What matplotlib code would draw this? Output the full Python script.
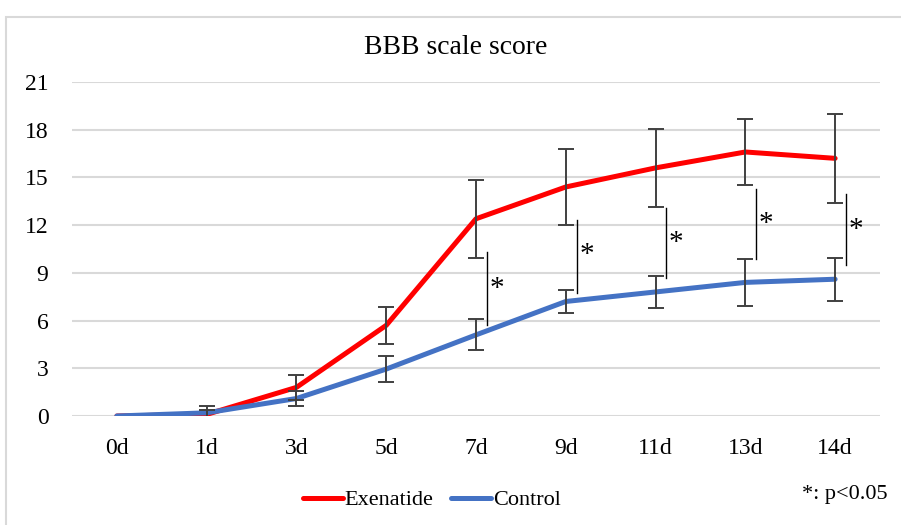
import matplotlib.pyplot as plt
from matplotlib.lines import Line2D
from matplotlib.patches import Rectangle

# ------------------------------
# data
# ------------------------------
days = ["0d", "1d", "3d", "5d", "7d", "9d", "11d", "13d", "14d"]

exenatide = [0, 0.1, 1.8, 5.7, 12.4, 14.4, 15.6, 16.6, 16.2]
exenatide_err = [0, 0.3, 0.8, 1.15, 2.45, 2.4, 2.45, 2.05, 2.8]

control = [0, 0.2, 1.1, 2.95, 5.1, 7.2, 7.8, 8.4, 8.6]
control_err = [0, 0.4, 0.45, 0.8, 0.97, 0.75, 1.0, 1.5, 1.35]

# significance brackets: (day index, low, high, star y)
sig_idx = [4, 5, 6, 7, 8]
sig_low = [5.7, 7.75, 8.7, 9.85, 9.5]
sig_high = [10.3, 12.3, 13.1, 14.3, 13.95]
sig_star = [8.0, 10.1, 10.9, 12.1, 11.7]

# ------------------------------
# figure
# ------------------------------
plt.rcParams["font.family"] = ["Liberation Serif", "DejaVu Serif"]

fig = plt.figure(figsize=(9.01, 5.25), dpi=100)
fig.patches.append(Rectangle((6 / 901, -0.1), 1.2, 1 - 17 / 525 + 0.1,
                             transform=fig.transFigure, fill=False,
                             edgecolor="#d9d9d9", linewidth=1.5))
ax = fig.add_axes([72 / 901, 1 - 416 / 525, 808 / 901, 334 / 525])

x = list(range(len(days)))

ax.plot(x, exenatide, color="#ff0000", lw=3.6, solid_capstyle="round", zorder=3)
ax.plot(x, control, color="#4472c4", lw=3.6, solid_capstyle="round", zorder=3)

ax.errorbar(x[1:], exenatide[1:], yerr=exenatide_err[1:], fmt="none",
            ecolor="#404040", elinewidth=1.4, capsize=5.5, capthick=1.4, zorder=4)
ax.errorbar(x[1:], control[1:], yerr=control_err[1:], fmt="none",
            ecolor="#404040", elinewidth=1.4, capsize=5.5, capthick=1.4, zorder=4)

for i, lo, hi, sy in zip(sig_idx, sig_low, sig_high, sig_star):
    ax.plot([i + 0.12, i + 0.12], [lo, hi], color="black", lw=1.0, zorder=4)
    ax.text(i + 0.23, sy, "*", fontsize=21, ha="center", va="center")

ax.set_xlim(-0.5, len(days) - 0.5)
ax.set_ylim(0, 21)
ax.set_yticks(range(0, 22, 3))
ax.set_xticks(x)
ax.set_xticklabels(days)
ax.grid(axis="y", color="#d9d9d9", lw=1.5)
ax.set_axisbelow(True)
for s in ax.spines.values():
    s.set_visible(False)
ax.tick_params(length=0, labelsize=17, colors="black")
ax.tick_params(axis="x", pad=16)
ax.tick_params(axis="y", pad=17)

fig.text(456 / 901, 1 - 47 / 525, "BBB scale score", fontsize=20,
         ha="center", va="center")

handles = [Line2D([], [], color="#ff0000", lw=3.6, solid_capstyle="round"),
           Line2D([], [], color="#4472c4", lw=3.6, solid_capstyle="round")]
fig.legend(handles, ["Exenatide", "Control"], loc="center",
           bbox_to_anchor=(432 / 901, 1 - 500 / 525), ncol=2, frameon=False,
           fontsize=16, handlelength=1.8, handletextpad=0.1, columnspacing=0.8)

fig.text(888 / 901, 1 - 494 / 525, "*: p<0.05", fontsize=16,
         ha="right", va="center")

fig.savefig("out.png", dpi=100)
